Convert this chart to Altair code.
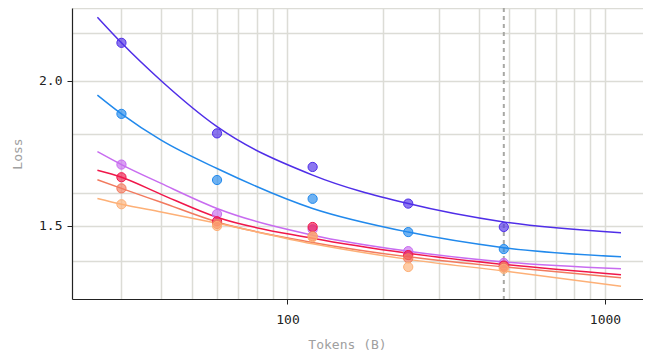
import altair as alt
import pandas as pd

# ---- data ----
SERIES = ["Model A", "Model B", "Model C", "Model D", "Model E", "Model F"]
COLORS = ["#4f2ee8", "#2189ec", "#c86cf0", "#f0174a", "#f27a5e", "#fdb077"]

PTS_X = [30, 60, 120, 240, 480]
PTS_A = [2.156, 1.802, 1.686, 1.568, 1.497]
PTS_B = [1.873, 1.643, 1.583, 1.482, 1.433]
PTS_C = [1.694, 1.536, 1.490, 1.427, 1.394]
PTS_D = [1.652, 1.514, 1.497, 1.416, 1.387]
PTS_E = [1.616, 1.506, 1.470, 1.407, 1.383]
PTS_F = [1.566, 1.500, 1.467, 1.383, 1.378]

CURVE_X = [25.2, 30, 40, 60, 120, 240, 480, 1123]
CURVE_A = [2.268, 2.156, 2.000, 1.826, 1.659, 1.568, 1.512, 1.480]
CURVE_B = [1.944, 1.873, 1.778, 1.681, 1.553, 1.482, 1.437, 1.411]
CURVE_C = [1.738, 1.694, 1.632, 1.553, 1.473, 1.427, 1.397, 1.378]
CURVE_D = [1.675, 1.652, 1.597, 1.526, 1.464, 1.421, 1.390, 1.362]
CURVE_E = [1.644, 1.616, 1.572, 1.512, 1.452, 1.411, 1.383, 1.354]
CURVE_F = [1.584, 1.566, 1.542, 1.508, 1.448, 1.404, 1.372, 1.331]

DASH_X = [480]

X_GRID = [30, 40, 50, 60, 70, 80, 90, 100, 200, 300, 400, 500, 600, 700, 800, 900, 1000]
X_LABELED = [100, 1000]
Y_GRID = [1.4, 1.5, 1.6, 1.8, 2.0, 2.2, 2.31]
Y_LABELED = [1.5, 2.0]

X_DOMAIN = [20.96, 1317]
Y_DOMAIN = [1.298, 2.31]

# ---- tables ----
pts_rows, curve_rows = [], []
for name, py, cy in zip(SERIES,
                        [PTS_A, PTS_B, PTS_C, PTS_D, PTS_E, PTS_F],
                        [CURVE_A, CURVE_B, CURVE_C, CURVE_D, CURVE_E, CURVE_F]):
    for x, y in zip(PTS_X, py):
        pts_rows.append({"series": name, "tokens": x, "loss": y, "k": SERIES.index(name)})
    for i, (x, y) in enumerate(zip(CURVE_X, cy)):
        curve_rows.append({"series": name, "tokens": x, "loss": y, "i": i})
pts = pd.DataFrame(pts_rows)
curves = pd.DataFrame(curve_rows)
dash = pd.DataFrame({"tokens": DASH_X})

FONT = "DejaVu Sans Mono"

x_test = " || ".join(f"datum.value == {v}" for v in X_LABELED)
y_test = " || ".join(f"abs(datum.value - {v}) < 1e-6" for v in Y_LABELED)

x_scale = alt.Scale(type="log", domain=X_DOMAIN, nice=False)
y_scale = alt.Scale(type="log", domain=Y_DOMAIN, nice=False)

x_axis = alt.Axis(
    values=X_GRID,
    labelExpr=f"({x_test}) ? format(datum.value, 'd') : ''",
    labelOverlap=False,
    tickOpacity=alt.condition(x_test, alt.value(1), alt.value(0)),
    tickSize=5,
    labelPadding=9,
    titlePadding=12,
    titleX=275,
    title="Tokens (B)",
)
y_axis = alt.Axis(
    values=Y_GRID,
    labelExpr=f"({y_test}) ? format(datum.value, '.1f') : ''",
    labelOverlap=False,
    tickOpacity=alt.condition(y_test, alt.value(1), alt.value(0)),
    tickSize=5,
    labelPadding=5,
    titlePadding=14,
    title="Loss",
)

color_scale = alt.Scale(domain=SERIES, range=COLORS)

rule = alt.Chart(dash).mark_rule(
    color="#a8a8a4", strokeDash=[4, 4], strokeWidth=2
).encode(x=alt.X("tokens:Q", scale=x_scale, axis=x_axis))

lines = alt.Chart(curves).mark_line(strokeWidth=1.5, interpolate="monotone").encode(
    x=alt.X("tokens:Q", scale=x_scale, axis=x_axis),
    y=alt.Y("loss:Q", scale=y_scale, axis=y_axis),
    color=alt.Color("series:N", scale=color_scale, legend=None),
    order="i:Q",
)

points = alt.Chart(pts).mark_circle(size=85, fillOpacity=0.65, strokeWidth=1, opacity=1).encode(
    x=alt.X("tokens:Q", scale=x_scale, axis=x_axis),
    y=alt.Y("loss:Q", scale=y_scale, axis=y_axis),
    color=alt.Color("series:N", scale=color_scale, legend=None),
    stroke=alt.Stroke("series:N", scale=color_scale, legend=None),
    order="k:Q",
)

chart = alt.layer(rule, lines, points).properties(
    width=571,
    height=291,
    autosize=alt.AutoSizeParams(type="none"),
    padding={"left": 64, "top": 0, "right": 0, "bottom": 52},
).configure_view(stroke=None).configure_axis(
    labelFont=FONT,
    titleFont=FONT,
    labelFontSize=13,
    titleFontSize=13,
    labelColor="#222222",
    titleColor="#a0a0a0",
    titleFontWeight="normal",
    domainColor="#222222",
    domainWidth=1.2,
    tickColor="#222222",
    gridColor="#dcdcd6",
    gridWidth=1.5,
    grid=True,
)

chart.save("out.html", embed_options={"renderer": "svg", "actions": False})
